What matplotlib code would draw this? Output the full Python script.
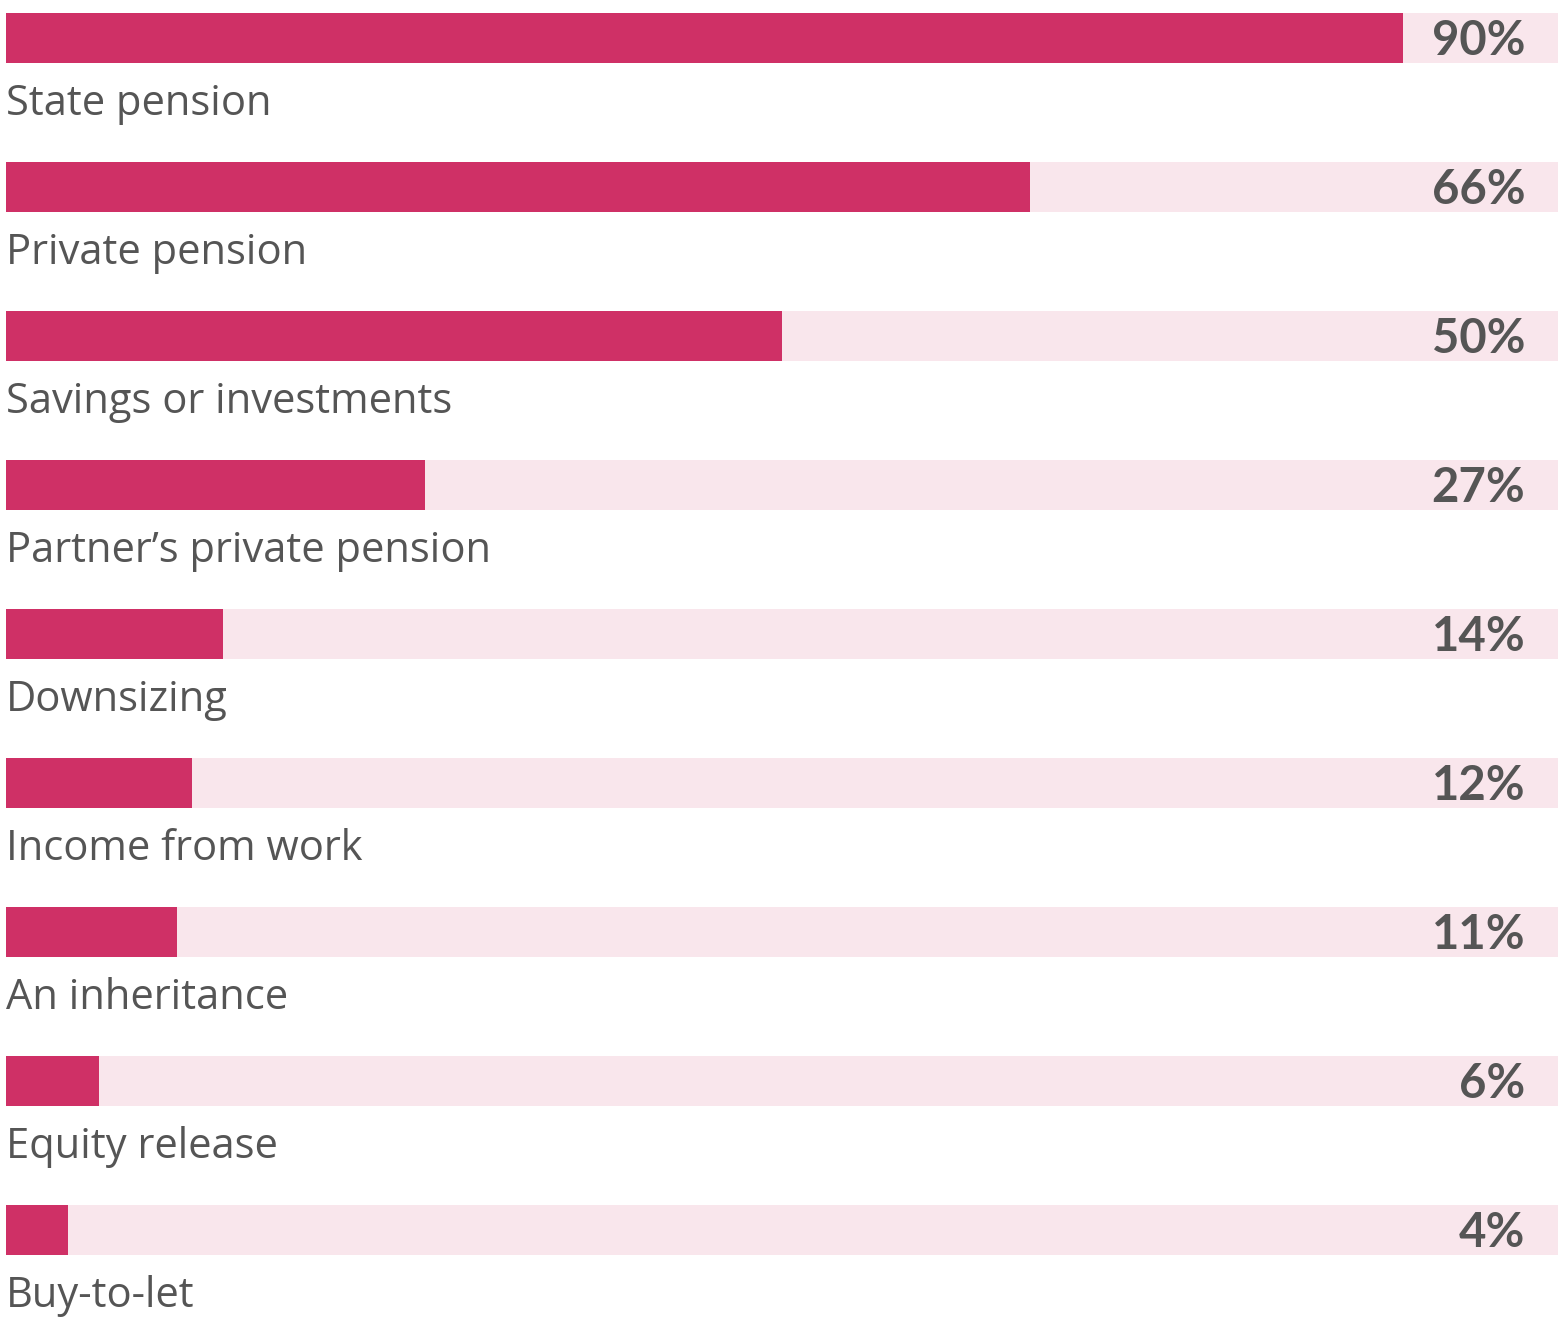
import matplotlib.pyplot as plt

categories = ["State pension", "Private pension", "Savings or investments",
              "Partner's private pension", "Downsizing", "Income from work",
              "An inheritance", "Equity release", "Buy-to-let"]
values = [90, 66, 50, 27, 14, 12, 11, 6, 4]

W, H = 1559, 1321
fig = plt.figure(figsize=(W / 100, H / 100), dpi=100)
ax = fig.add_axes([6 / W, 0, (1558 - 6) / W, 1])
ax.set_xlim(0, 100)
ax.set_ylim(H, 0)
ax.axis('off')

pink = '#cf3066'
light = '#f9e6ec'
grey = '#555555'

ys = [38 + 149 * i for i in range(len(values))]
ax.barh(ys, [100] * len(values), height=50, color=light, left=0)
ax.barh(ys, values, height=50, color=pink, left=0)

for y, v, c in zip(ys, values, categories):
    ax.text(97.9, y + 17, f"{v}%", ha='right', va='baseline', fontsize=34,
            fontweight='bold', color=grey, family='Lato')
    ax.text(0, y + 77, c.replace("'", "\u2019"), ha='left', va='baseline',
            fontsize=30, color=grey, family='Open Sans')

fig.savefig('out.png', dpi=100)
